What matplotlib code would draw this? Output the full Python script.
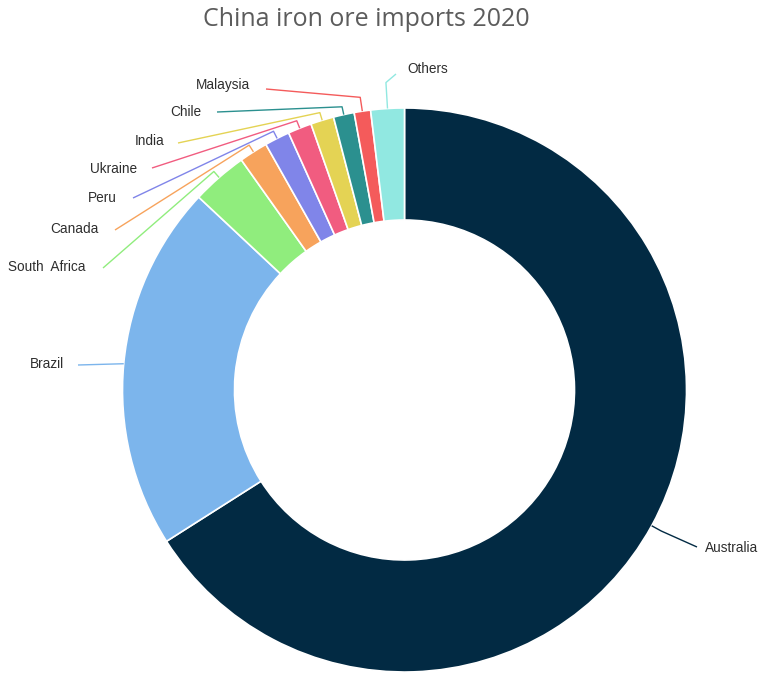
import matplotlib
matplotlib.use('Agg')
import matplotlib.pyplot as plt
import numpy as np

# China iron ore imports 2020, share of total (%)
countries = ['Australia', 'Brazil', 'South  Africa', 'Canada', 'Peru', 'Ukraine',
             'India', 'Chile', 'Malaysia', 'Others']
share = [66.0, 21.0, 3.2, 1.64, 1.44, 1.36, 1.33, 1.19, 0.94, 1.92]
colors = ['#022a43', '#7cb5ec', '#90ed7d', '#f7a35c', '#8085e9', '#f15c80',
          '#e4d354', '#2b908f', '#f45b5b', '#91e8e1']

W, H = 763, 677
cx, cy, R, r_in = 404.5, 390, 282, 170

# layout of the labels (pixels from top left)
line_end = [(697, 547), (78, 365), (103, 268), (115, 230), (133, 198), (152, 168),
            (178, 143), (217, 112), (266, 89), (396, 74)]
text_pos = [(705, 548), (64, 364), (86, 267), (99, 229), (117, 198), (137, 169),
            (165, 141), (201, 112), (250, 85), (407, 69)]
text_ha = ['left', 'right', 'right', 'right', 'right', 'right', 'right', 'right', 'right', 'left']
bend = [11, 0, 8, 8, 8, 8, 8, 8, 14, 26]

fig = plt.figure(figsize=(W / 100, H / 100), dpi=100)
ax = fig.add_axes([0, 0, 1, 1])

wedges, _ = ax.pie(share, colors=colors, startangle=90, counterclock=False,
                   radius=R, center=(cx, H - cy),
                   wedgeprops=dict(width=R - r_in, edgecolor='white', linewidth=1.2))

for w, col, (ex, ey), (tx, ty), ha, b, name in zip(wedges, colors, line_end, text_pos,
                                                   text_ha, bend, countries):
    mid = np.deg2rad((w.theta1 + w.theta2) / 2)
    d = np.array([np.cos(mid), np.sin(mid)])
    a = np.array([cx, H - cy]) + R * d
    k = np.array([cx, H - cy]) + (R + b) * d
    ax.plot([a[0], k[0], ex], [a[1], k[1], H - ey], color=col, lw=1.0,
            solid_capstyle='butt')
    ax.text(tx, H - ty, name, ha=ha, va='center', fontsize=9.8,
            family='Liberation Sans', color='#2e2e2e')

ax.set_xlim(0, W)
ax.set_ylim(0, H)
ax.set_aspect('equal')
ax.axis('off')

fig.text(366 / W, 1 - 20 / H, 'China iron ore imports 2020', ha='center', va='center',
         fontsize=18, family='Open Sans', color='#5c5c5c')

fig.savefig('out.png', dpi=100)
